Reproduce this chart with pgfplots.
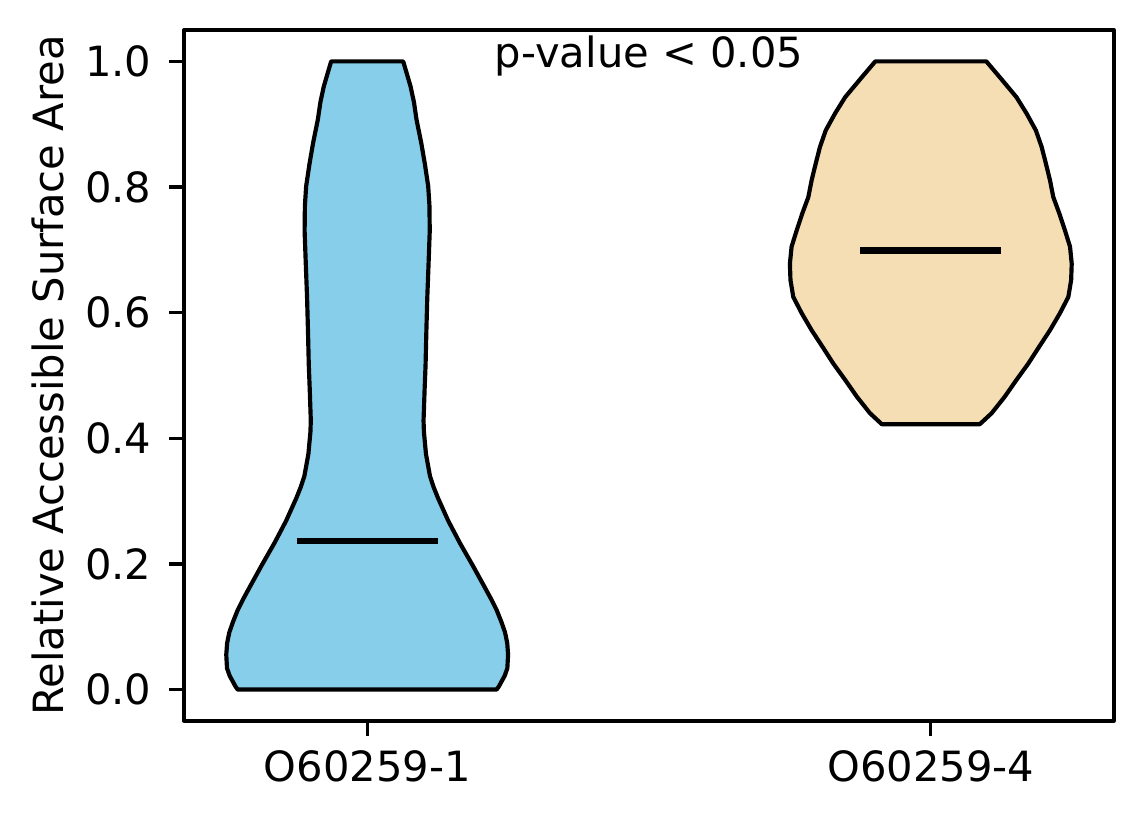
\documentclass[border=0pt]{standalone}
\usepackage{fontspec}
\setmainfont{DejaVu Sans}
\usepackage{pgfplots}
\pgfplotsset{compat=1.18}
\definecolor{skyblue}{RGB}{135,206,235}
\definecolor{wheat}{RGB}{245,222,179}
\begin{document}
\begin{tikzpicture}
\begin{axis}[
  scale only axis,
  width=223.2pt, height=165.84pt,
  xmin=-0.325, xmax=1.325,
  ymin=-0.05, ymax=1.05,
  xtick={0,1},
  xticklabels={O60259-1, O60259-4},
  ytick={0,0.2,0.4,0.6,0.8,1.0},
  /pgf/number format/fixed,
  /pgf/number format/fixed zerofill,
  /pgf/number format/precision=1,
  /pgf/number format/assume math mode=true,
  yticklabel style={anchor=east, inner sep=0pt, xshift=-4.1pt},
  xticklabel style={anchor=north, inner sep=0pt, yshift=-3.3pt},
  xtick pos=left, ytick pos=left,
  tick align=outside,
  major tick length=3.5pt,
  every tick/.style={black, line width=0.8pt},
  axis line style={line width=0.8pt},
  ylabel={Relative Accessible Surface Area},
  ylabel style={at={(axis description cs:-0.1468,0.5)}, anchor=center, inner sep=0pt},
  clip=false,
  line join=round,
]
\coordinate (sw) at (rel axis cs:0,0);
\coordinate (ne) at (rel axis cs:1,1);
% violin 1 (center 0)
\addplot[fill=skyblue, draw=black, line width=1pt] coordinates {
(0.0639,1.0) (0.0705,0.98) (0.0770,0.96) (0.0830,0.935) (0.0876,0.907) (0.0960,0.87) (0.1025,0.836)
(0.1083,0.801) (0.1105,0.77) (0.1110,0.730) (0.1090,0.68)
(0.1066,0.623) (0.1050,0.57) (0.1036,0.517) (0.1020,0.48) (0.1007,0.446) (0.1000,0.428) (0.1007,0.410) (0.1043,0.375) (0.1114,0.340)
(0.1180,0.322) (0.1261,0.304) (0.1439,0.2685) (0.1647,0.233) (0.1870,0.198) (0.2091,0.162) (0.2200,0.144) (0.2297,0.1266)
(0.2380,0.108) (0.2446,0.091) (0.2485,0.074) (0.2500,0.0556) (0.2487,0.034) (0.2440,0.022) (0.2385,0.013) (0.2340,0.0055) (0.2297,0.0)
(-0.2297,0.0) (-0.2340,0.0055) (-0.2385,0.013) (-0.2440,0.022) (-0.2487,0.034) (-0.2500,0.0556) (-0.2485,0.074) (-0.2446,0.091) (-0.2380,0.108)
(-0.2297,0.1266) (-0.2200,0.144) (-0.2091,0.162) (-0.1870,0.198) (-0.1647,0.233) (-0.1439,0.2685) (-0.1261,0.304) (-0.1180,0.322)
(-0.1114,0.340) (-0.1043,0.375) (-0.1007,0.410) (-0.1000,0.428) (-0.1007,0.446) (-0.1020,0.48) (-0.1036,0.517) (-0.1050,0.57) (-0.1066,0.623)
(-0.1090,0.68) (-0.1110,0.730) (-0.1105,0.77) (-0.1083,0.801) (-0.1025,0.836) (-0.0960,0.87) (-0.0876,0.907) (-0.0830,0.935)
(-0.0770,0.96) (-0.0705,0.98) (-0.0639,1.0)
} -- cycle;
% violin 2 (center 1)
\addplot[fill=wheat, draw=black, line width=1pt] coordinates {
(1.0985,1.0) (1.125,0.972) (1.152,0.943) (1.170,0.917) (1.1865,0.890) (1.1966,0.864) (1.2043,0.837)
(1.2114,0.811) (1.2173,0.784) (1.228,0.758) (1.238,0.731) (1.247,0.705) (1.250,0.678)
(1.249,0.652) (1.244,0.625) (1.229,0.599) (1.2114,0.572) (1.1924,0.546) (1.173,0.519)
(1.152,0.493) (1.131,0.466) (1.108,0.440) (1.087,0.4225)
(0.913,0.4225) (0.892,0.440) (0.869,0.466) (0.848,0.493) (0.827,0.519) (0.8076,0.546)
(0.7886,0.572) (0.771,0.599) (0.756,0.625) (0.751,0.652) (0.750,0.678) (0.753,0.705)
(0.762,0.731) (0.772,0.758) (0.7827,0.784) (0.7886,0.811) (0.7957,0.837) (0.8034,0.864)
(0.8135,0.890) (0.830,0.917) (0.848,0.943) (0.875,0.972) (0.9015,1.0)
} -- cycle;
% medians
\addplot[black, line width=1.5pt] coordinates {(-0.125,0.237) (0.125,0.237)};
\addplot[black, line width=1.5pt] coordinates {(0.875,0.699) (1.125,0.699)};
\node[anchor=base, inner sep=0pt] at (axis cs:0.5,0.99) {p-value < 0.05};
\end{axis}
\pgfresetboundingbox
\path[use as bounding box] ([xshift=-44.16pt,yshift=-24.72pt]sw) rectangle ([xshift=7.2pt,yshift=7.2pt]ne);
\end{tikzpicture}
\end{document}
